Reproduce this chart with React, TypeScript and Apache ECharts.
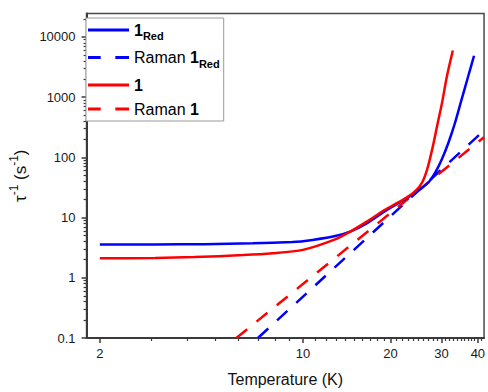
import React, { useEffect, useRef } from 'react';
import * as echarts from 'echarts';

const FONT = '"Liberation Sans", Arial, sans-serif';

// Temperature (K) and relaxation rate (s^-1)
const blueT = [2.0, 3.1, 4.57, 6.73, 9.18, 10.0, 12.81, 14.61, 16.63, 18.92, 21.53, 23.87, 25.79, 27.17, 28.62, 30.12, 31.72, 33.41, 35.17, 37.05, 38.8];
const blueRate = [3.56, 3.58, 3.62, 3.75, 3.94, 4.04, 4.89, 5.91, 8.09, 12.3, 17.9, 24.3, 31.6, 39.3, 57.3, 94.8, 178.5, 381, 920, 2223, 4870];

const redT = [2.0, 3.1, 4.23, 6.23, 7.86, 10.0, 12.84, 14.61, 16.63, 18.92, 20.43, 22.68, 24.51, 25.79, 26.81, 27.87, 28.97, 30.12, 31.3, 32.8];
const redRate = [2.11, 2.13, 2.21, 2.38, 2.55, 2.91, 4.3, 5.91, 8.63, 13.0, 16.0, 21.2, 28.2, 39.3, 64.9, 138.4, 335, 811, 2223, 5950];

const ramanBlueT = [7.0, 42];
const ramanBlueRate = [0.1, 280];
const ramanRedT = [5.9, 42];
const ramanRedRate = [0.1, 216];

const seriesNames = ['1Red', 'Raman 1Red', '1', 'Raman 1'];
const legendLabels: Record<string, string> = {
  '1Red': '{b|1}{sub|Red}',
  'Raman 1Red': 'Raman {b|1}{sub|Red}',
  '1': '{b|1}',
  'Raman 1': 'Raman {b|1}',
};
const solidIcon = 'path://M0,0H42V3H0Z';
const dashIcon = 'path://M0,0H13V3H0ZM28,0H42V3H28Z';
const legendIcons = [solidIcon, dashIcon, solidIcon, dashIcon];

const xMin = 1.8;
const xMax = 42;
const xMajor = [2, 10, 20, 30, 40];
const xMajorLabels = ['2', '10', '20', '30', '40'];
const xMinor = [3, 4, 5, 6, 7, 8, 9, 11, 12, 13, 14, 15, 16, 17, 18, 19, 21, 22, 23, 24, 25, 26, 27, 28, 29, 31, 32, 33, 34, 35, 36, 37, 38, 39, 41];

const yMin = 0.1;
const yMax = 24500;
const yMajor = [0.1, 1, 10, 100, 1000, 10000];
const yMajorLabels = ['0.1', '1', '10', '100', '1000', '10000'];
const yMinorMult = [2, 3, 4, 5, 6, 7, 8, 9];

const lg = (v: number) => Math.log10(v);
const toPairs = (xs: number[], ys: number[]) => xs.map((x, i) => [lg(x), lg(ys[i])]);

function labelFor(values: number[], labels: string[]) {
  return (v: number) => {
    const i = values.findIndex((t) => Math.abs(lg(t) - v) < 1e-6);
    return i >= 0 ? labels[i] : '';
  };
}

export default function App() {
  const ref = useRef<HTMLDivElement>(null);
  useEffect(() => {
    if (!ref.current) return;
    const chart = echarts.init(ref.current, undefined, { renderer: 'svg' });
    const yMinor: number[] = [];
    yMajor.forEach((d) => yMinorMult.forEach((m) => { if (d * m <= yMax) yMinor.push(lg(d * m)); }));
    const axisColor = '#3a3a3a';
    const labelStyle = { fontSize: 13, color: '#1a1a1a', fontFamily: FONT };
    const option: any = {
      animation: false,
      backgroundColor: '#fff',
      grid: { left: 80, right: 1.5, top: 13.5, bottom: 51, show: true, borderColor: '#4a4a4a', borderWidth: 1.5, backgroundColor: 'transparent' },
      legend: {
        orient: 'vertical',
        left: 86,
        top: 18,
        padding: [4, 4, 4, 2],
        itemGap: 8,
        itemWidth: 41,
        itemHeight: 3,
        borderColor: '#999',
        borderWidth: 1,
        backgroundColor: '#fff',
        data: seriesNames.map((n, i) => ({ name: n, icon: legendIcons[i] })),
        formatter: (name: string) => legendLabels[name],
        textStyle: {
          fontSize: 16,
          color: '#000',
          fontFamily: FONT,
          rich: {
            b: { fontSize: 16, fontWeight: 'bold', color: '#000', fontFamily: FONT },
            sub: { fontSize: 11, fontWeight: 'bold', color: '#000', fontFamily: FONT, padding: [12, 0, 0, 0] },
          },
        },
      },
      xAxis: [
        {
          type: 'value',
          min: lg(xMin),
          max: lg(xMax),
          position: 'bottom',
          splitLine: { show: false },
          axisLine: { show: true, onZero: false, lineStyle: { color: axisColor, width: 2 } },
          axisTick: { show: true, inside: false, length: 5, customValues: xMajor.map(lg), lineStyle: { color: axisColor, width: 1.5 } },
          axisLabel: { ...labelStyle, margin: 9, customValues: xMajor.map(lg), formatter: labelFor(xMajor, xMajorLabels) },
          name: 'Temperature (K)',
          nameLocation: 'middle',
          nameGap: 33,
          nameTextStyle: { fontSize: 16, color: '#111', fontFamily: FONT },
        },
        {
          type: 'value',
          min: lg(xMin),
          max: lg(xMax),
          position: 'bottom',
          splitLine: { show: false },
          axisLine: { show: false, onZero: false },
          axisTick: { show: true, inside: false, length: 3, customValues: xMinor.map(lg), lineStyle: { color: axisColor, width: 1.2 } },
          axisLabel: { show: false },
        },
      ],
      yAxis: [
        {
          type: 'value',
          min: lg(yMin),
          max: lg(yMax),
          position: 'left',
          splitLine: { show: false },
          axisLine: { show: true, onZero: false, lineStyle: { color: axisColor, width: 2 } },
          axisTick: { show: true, inside: false, length: 5, customValues: yMajor.map(lg), lineStyle: { color: axisColor, width: 1.5 } },
          axisLabel: { ...labelStyle, margin: 11, customValues: yMajor.map(lg), formatter: labelFor(yMajor, yMajorLabels) },
          name: '{a|τ}{sup|-1}{a| (s}{sup|-1}{a|)}',
          nameLocation: 'middle',
          nameGap: 52,
          nameTextStyle: {
            fontSize: 17,
            color: '#111',
            fontFamily: FONT,
            rich: {
              a: { fontSize: 17, color: '#111', fontFamily: FONT },
              sup: { fontSize: 12, color: '#111', fontFamily: FONT, padding: [0, 0, 12, 0] },
            },
          },
        },
        {
          type: 'value',
          min: lg(yMin),
          max: lg(yMax),
          position: 'left',
          splitLine: { show: false },
          axisLine: { show: false, onZero: false },
          axisTick: { show: true, inside: false, length: 3, customValues: yMinor, lineStyle: { color: axisColor, width: 1.2 } },
          axisLabel: { show: false },
        },
      ],
      series: [
        {
          name: '1Red', type: 'line', data: toPairs(blueT, blueRate), symbol: 'none', smooth: 0.25,
          lineStyle: { color: '#0000ff', width: 2.5 }, itemStyle: { color: '#0000ff' }, z: 3,
        },
        {
          name: 'Raman 1Red', type: 'line', data: toPairs(ramanBlueT, ramanBlueRate), symbol: 'none',
          lineStyle: { color: '#0000ff', width: 2.5, type: [14, 12] }, itemStyle: { color: '#0000ff' }, z: 2,
        },
        {
          name: '1', type: 'line', data: toPairs(redT, redRate), symbol: 'none', smooth: 0.25,
          lineStyle: { color: '#ff0000', width: 2.5 }, itemStyle: { color: '#ff0000' }, z: 4,
        },
        {
          name: 'Raman 1', type: 'line', data: toPairs(ramanRedT, ramanRedRate), symbol: 'none',
          lineStyle: { color: '#ff0000', width: 2.5, type: [14, 12] }, itemStyle: { color: '#ff0000' }, z: 2,
        },
      ],
    };
    chart.setOption(option);
    return () => chart.dispose();
  }, []);
  return <div ref={ref} style={{ position: 'fixed', left: 0, top: 0, width: 488, height: 392, background: '#fff' }} />;
}
